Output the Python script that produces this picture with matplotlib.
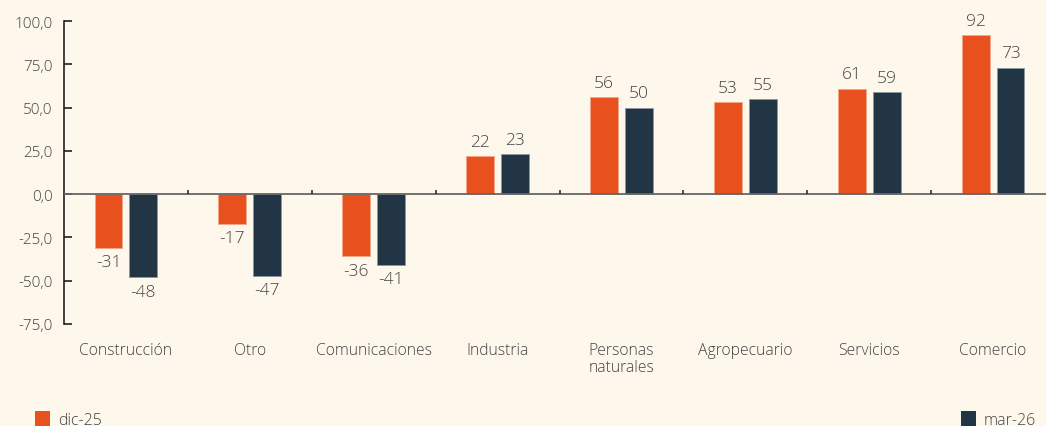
import matplotlib
matplotlib.use("Agg")
import matplotlib.pyplot as plt
from matplotlib.patches import Rectangle
import numpy as np

categories = ["Construcción", "Otro", "Comunicaciones", "Industria",
              "Personas\nnaturales", "Agropecuario", "Servicios", "Comercio"]
dic25 = [-31, -17, -36, 22, 56, 53, 61, 92]
mar26 = [-48, -47, -41, 23, 50, 55, 59, 73]
yticks = [-75, -50, -25, 0, 25, 50, 75, 100]
series_names = ["dic-25", "mar-26"]

BG = "#FEF7EB"
ORANGE = "#E8501E"
NAVY = "#213544"
TXT = "#444444"

plt.rcParams['font.family'] = ['Open Sans', 'DejaVu Sans']
plt.rcParams['font.weight'] = 300

fig = plt.figure(figsize=(10.46, 4.27), dpi=100, facecolor=BG)
ax = fig.add_axes([64/1046, 1-325/427, (1055-64)/1046, (325-22)/427])
ax.set_facecolor(BG)

x = np.arange(len(categories))
w = 0.225
off = 0.141
ax.bar(x - off, dic25, w, color=ORANGE, edgecolor="#F4A58A", linewidth=0.6, zorder=3)
ax.bar(x + off, mar26, w, color=NAVY, edgecolor="#8A98A3", linewidth=0.6, zorder=3)

for xs, vals in ((x - off, dic25), (x + off, mar26)):
    for xi, v in zip(xs, vals):
        if v >= 0:
            ax.annotate(f"{v}", (xi, v), xytext=(0, 4.5), textcoords="offset points",
                        ha="center", va="bottom", fontsize=12.5, color=TXT, fontweight=300)
        else:
            ax.annotate(f"{v}", (xi, v), xytext=(0, -4.5), textcoords="offset points",
                        ha="center", va="top", fontsize=12.5, color=TXT, fontweight=300)

ax.set_xlim(-0.5, len(categories) - 0.5)
ax.set_ylim(-75, 100)
ax.set_yticks(yticks)
ax.set_yticklabels([f"{t:.1f}".replace(".", ",") for t in yticks], fontsize=11, color=TXT,
                   fontweight=300)
ax.tick_params(axis="y", direction="in", length=6, width=1.2, color="#222222", pad=8)

ax.set_xticks(x)
ax.set_xticklabels(categories, fontsize=11.3, color=TXT, linespacing=1.1, fontweight=300)
ax.tick_params(axis="x", length=0, pad=13)

for s in ("top", "right", "bottom"):
    ax.spines[s].set_visible(False)
ax.spines["left"].set_color("#222222")
ax.spines["left"].set_linewidth(1.2)

ax.axhline(0, color="#666666", linewidth=1.3, zorder=4)
ax.vlines(x[:-1] + 0.5, 0, 2.5, color="#222222", linewidth=1.1, zorder=4)

# legend
fig.patches.append(Rectangle((35/1046, 0), 15/1046, 15/427, transform=fig.transFigure,
                             facecolor=ORANGE, edgecolor="none"))
fig.text(58/1046, -2/427, series_names[0], fontsize=11.5, color=TXT, va="bottom", ha="left",
         fontweight=300)
fig.patches.append(Rectangle((961/1046, 0), 15/1046, 15/427, transform=fig.transFigure,
                             facecolor=NAVY, edgecolor="none"))
fig.text(984/1046, -2/427, series_names[1], fontsize=11.5, color=TXT, va="bottom", ha="left",
         fontweight=300)

fig.savefig("out.png", dpi=100, facecolor=BG)
